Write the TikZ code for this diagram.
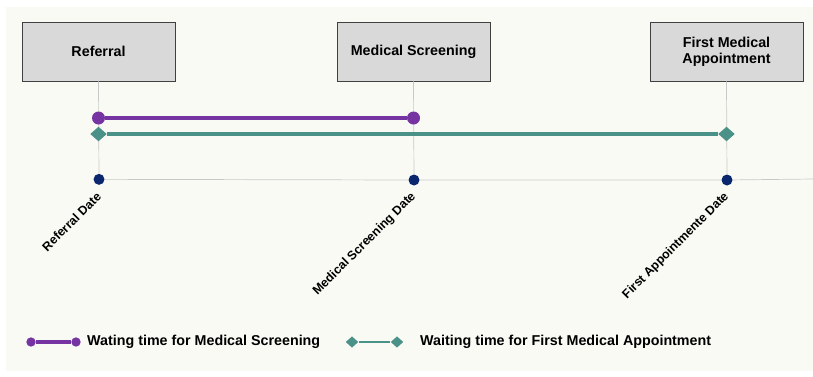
\documentclass[tikz,border=0pt]{standalone}
\usepackage{fontspec}
\setmainfont{Liberation Sans}
\usepackage{tikz}
\usetikzlibrary{positioning}
\usetikzlibrary{shapes.geometric}
\definecolor{P}{RGB}{118,52,163}
\definecolor{G}{RGB}{74,145,135}
\definecolor{N}{RGB}{10,38,110}
\definecolor{B}{RGB}{217,217,217}
\definecolor{K}{RGB}{64,64,64}
\definecolor{L}{RGB}{200,200,200}
\definecolor{bg}{RGB}{250,250,245}
\tikzstyle{stage}=[draw=K, fill=B, line width=0.8pt, minimum width=4.59cm, minimum height=1.77cm, align=center, font=\bfseries\fontsize{12.2}{13.8}\selectfont]
\tikzstyle{datedot}=[circle, fill=N, inner sep=0pt, minimum size=0.33cm]
\tikzstyle{guide}=[draw=L, line width=0.6pt]
\tikzstyle{pmark}=[circle, fill=P, inner sep=0pt, minimum size=0.39cm]
\tikzstyle{gmark}=[diamond, fill=G, inner sep=0pt, minimum width=0.5cm, minimum height=0.44cm]
\tikzstyle{pline}=[draw=P, line width=3.4pt]
\tikzstyle{gline}=[draw=G, line width=3pt]
\tikzstyle{dlabel}=[rotate=45, anchor=east, inner sep=0pt, font=\bfseries\fontsize{10.6}{12}\selectfont]
\tikzstyle{legtext}=[anchor=west, inner sep=0pt, font=\bfseries\fontsize{12.2}{13.8}\selectfont]

\begin{document}
\begin{tikzpicture}
    \path [use as bounding box] (0,0) rectangle (24.39,-11.28);
    \fill [bg] (0.18,-0.21) rectangle (24.39,-11.13);
        \node [stage] (ref) at (2.955,-1.545) {Referral};
        \node [stage] (scr) at (12.405,-1.545) {Medical Screening};
        \node [stage] (fma) at (21.795,-1.545) {First Medical\\Appointment};
        \node [datedot] (d1) at (2.97,-5.38) {};
        \node [datedot] (d2) at (12.42,-5.40) {};
        \node [datedot] (d3) at (21.81,-5.40) {};
        \coordinate (axend) at (24.39,-5.37);
        \draw [guide] (ref.south) -- (d1);
        \draw [guide] (scr.south) -- (d2);
        \draw [guide] (fma.south) -- (d3);
        \draw [guide] (d1) -- (d2) -- (d3) -- (axend);
        \node [below=0.27cm of d1, dlabel] (l1) {Referral Date};
        \node [below=0.27cm of d2, dlabel] (l2) {Medical Screening Date};
        \node [below=0.27cm of d3, dlabel] (l3) {First Appointmente Date};
        \node [pmark] (p1) at (2.955,-3.54) {};
        \node [pmark] (p2) at (12.405,-3.54) {};
        \draw [pline] (p1) -- (p2);
        \node [gmark] (g1) at (2.955,-4.02) {};
        \node [gmark] (g2) at (21.795,-4.02) {};
        \draw [gline] (g1) -- (g2);
        \node [pmark, minimum size=0.28cm] (lp1) at (0.93,-10.26) {};
        \node [pmark, minimum size=0.28cm] (lp2) at (2.28,-10.26) {};
        \draw [pline, line width=2.6pt] (lp1) -- (lp2);
        \node [legtext] (lt1) at (2.61,-10.26) {Wating time for Medical Screening};
        \node [gmark, minimum width=0.38cm, minimum height=0.34cm] (lg1) at (10.56,-10.26) {};
        \node [gmark, minimum width=0.38cm, minimum height=0.34cm] (lg2) at (11.91,-10.26) {};
        \draw [gline, line width=2.4pt] (lg1) -- (lg2);
        \node [legtext] (lt2) at (12.6,-10.26) {Waiting time for First Medical Appointment};
\end{tikzpicture}
\end{document}
